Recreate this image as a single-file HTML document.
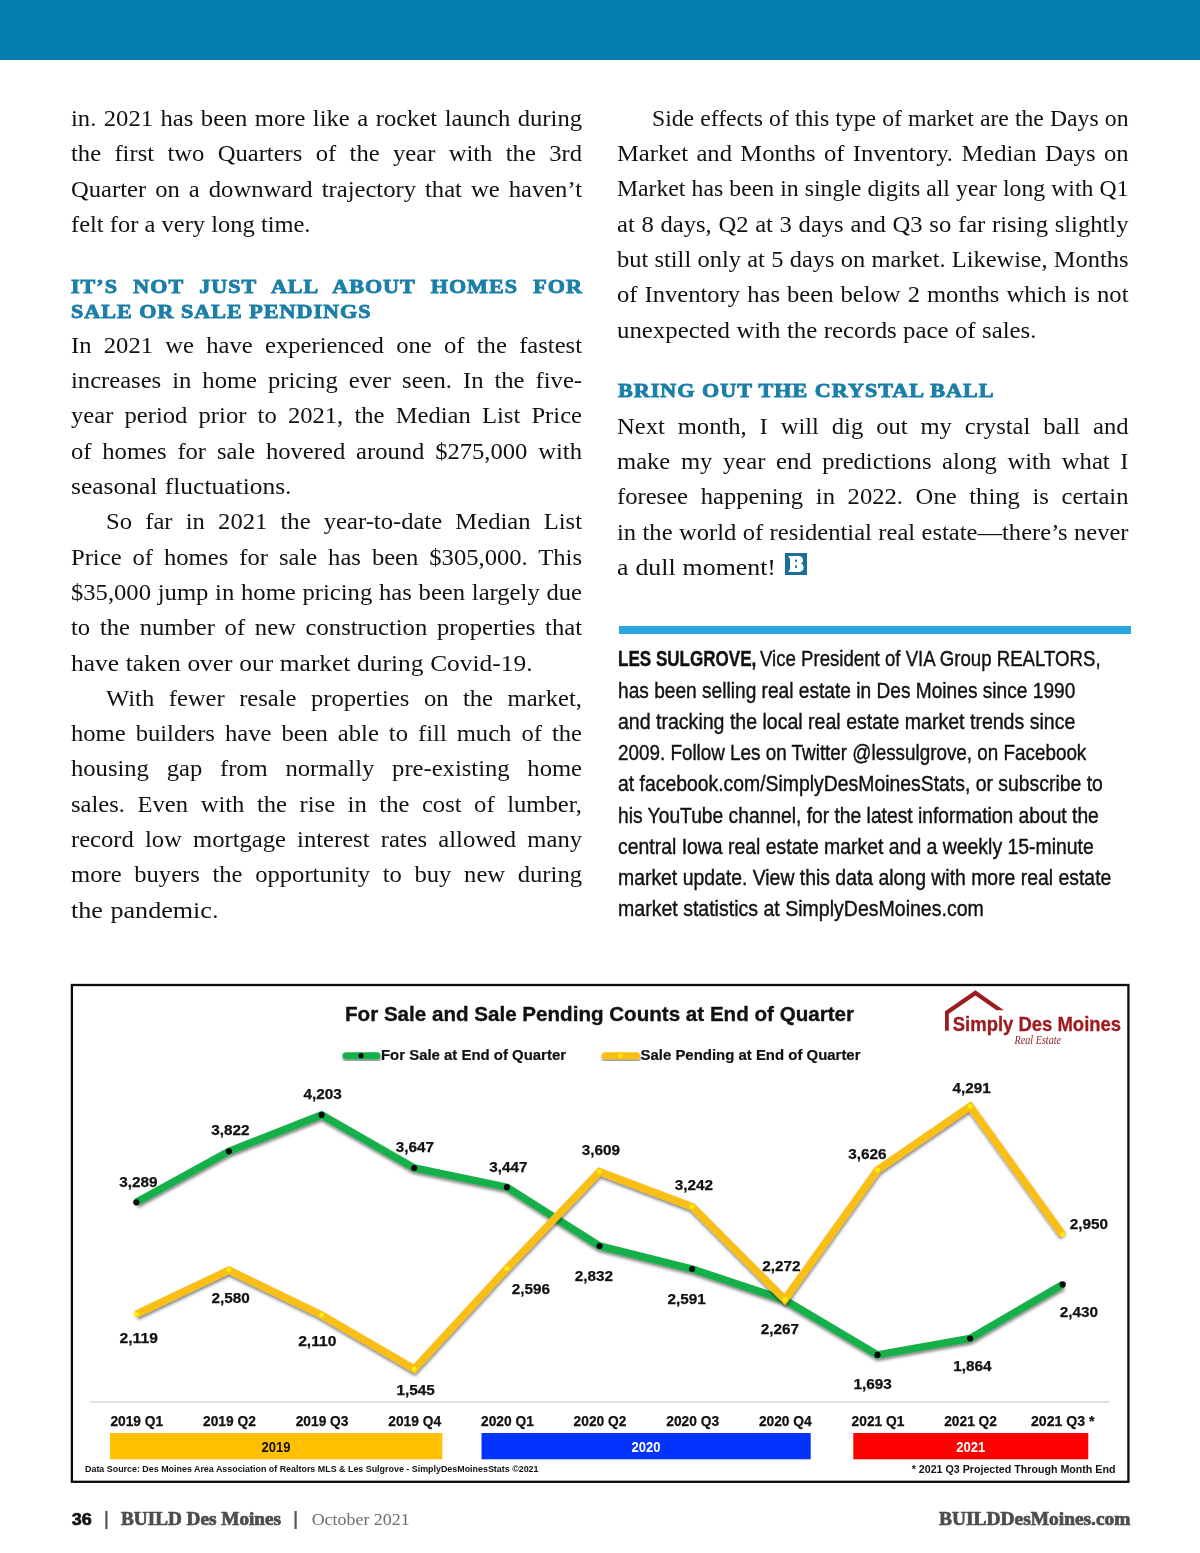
<!DOCTYPE html>
<html><head><meta charset="utf-8"><title>BUILD Des Moines</title>
<style>
html,body{margin:0;padding:0;background:#fff}
body{width:1200px;height:1553px;position:relative;overflow:hidden;font-family:"Liberation Serif",serif;color:#1a1a1a}
#pg{position:absolute;left:0;top:0;width:1200px;height:1553px;will-change:transform;background:#fff}
.topbar{position:absolute;left:0;top:0;width:1200px;height:60px;background:#0580ae}
.b{position:absolute;font:24.0px/36px "Liberation Serif",serif;white-space:nowrap;text-align:justify;text-align-last:justify;color:#111;transform-origin:0 0}
.h{position:absolute;font:bold 19.8px/26px "Liberation Serif",serif;white-space:nowrap;text-align:justify;text-align-last:justify;color:#1b7fa8;-webkit-text-stroke:0.9px #1b7fa8;letter-spacing:0.9px;transform:scaleX(1.117);transform-origin:0 50%}
.bio{position:absolute;font:22.0px/30px "Liberation Sans",sans-serif;white-space:nowrap;transform-origin:0 50%;color:#111;-webkit-text-stroke:0.4px #111}
.bio b{font-weight:bold}
.rule{position:absolute;left:619.2px;top:626.2px;width:511.8px;height:7.6px;background:#2ba6e0}
.bbox{position:absolute;left:785px;top:553px;width:21px;height:22px;background:#1b7fa8;color:#fff;font:bold 19px/22px "Liberation Serif",serif;text-align:center}
</style></head><body>
<div id="pg"><div class="topbar"></div>
<div class="b" style="left:71.00px;top:100.10px;width:498.54px;transform:scaleX(1.0250)">in. 2021 has been more like a rocket launch during</div>
<div class="b" style="left:71.00px;top:135.40px;width:498.54px;transform:scaleX(1.0250)">the first two Quarters of the year with the 3rd</div>
<div class="b" style="left:71.00px;top:170.80px;width:498.54px;transform:scaleX(1.0250)">Quarter on a downward trajectory that we haven’t</div>
<div class="b" style="left:71.00px;top:206.20px;width:234.98px;transform:scaleX(1.0192)">felt for a very long time.</div>
<div class="b" style="left:71.00px;top:326.80px;width:498.54px;transform:scaleX(1.0250)">In 2021 we have experienced one of the fastest</div>
<div class="b" style="left:71.00px;top:362.10px;width:498.54px;transform:scaleX(1.0250)">increases in home pricing ever seen. In the five-</div>
<div class="b" style="left:71.00px;top:397.40px;width:498.54px;transform:scaleX(1.0250)">year period prior to 2021, the Median List Price</div>
<div class="b" style="left:71.00px;top:432.70px;width:498.54px;transform:scaleX(1.0250)">of homes for sale hovered around $275,000 with</div>
<div class="b" style="left:71.00px;top:468.00px;width:207.67px;transform:scaleX(1.0618)">seasonal fluctuations.</div>
<div class="b" style="left:106.00px;top:503.30px;width:464.39px;transform:scaleX(1.0250)">So far in 2021 the year-to-date Median List</div>
<div class="b" style="left:71.00px;top:538.60px;width:498.54px;transform:scaleX(1.0250)">Price of homes for sale has been $305,000. This</div>
<div class="b" style="left:71.00px;top:573.90px;width:498.54px;transform:scaleX(1.0250)">$35,000 jump in home pricing has been largely due</div>
<div class="b" style="left:71.00px;top:609.20px;width:498.54px;transform:scaleX(1.0250)">to the number of new construction properties that</div>
<div class="b" style="left:71.00px;top:644.50px;width:435.96px;transform:scaleX(1.0586)">have taken over our market during Covid-19.</div>
<div class="b" style="left:106.00px;top:679.80px;width:464.39px;transform:scaleX(1.0250)">With fewer resale properties on the market,</div>
<div class="b" style="left:71.00px;top:715.10px;width:498.54px;transform:scaleX(1.0250)">home builders have been able to fill much of the</div>
<div class="b" style="left:71.00px;top:750.40px;width:498.54px;transform:scaleX(1.0250)">housing gap from normally pre-existing home</div>
<div class="b" style="left:71.00px;top:785.70px;width:498.54px;transform:scaleX(1.0250)">sales. Even with the rise in the cost of lumber,</div>
<div class="b" style="left:71.00px;top:821.00px;width:498.54px;transform:scaleX(1.0250)">record low mortgage interest rates allowed many</div>
<div class="b" style="left:71.00px;top:856.30px;width:498.54px;transform:scaleX(1.0250)">more buyers the opportunity to buy new during</div>
<div class="b" style="left:71.00px;top:891.60px;width:135.57px;transform:scaleX(1.0880)">the pandemic.</div>
<div class="b" style="left:652.30px;top:99.80px;width:482.78px;transform:scaleX(0.9870)">Side effects of this type of market are the Days on</div>
<div class="b" style="left:617.30px;top:135.10px;width:499.02px;transform:scaleX(1.0250)">Market and Months of Inventory. Median Days on</div>
<div class="b" style="left:617.30px;top:170.40px;width:517.93px;transform:scaleX(0.9876)">Market has been in single digits all year long with Q1</div>
<div class="b" style="left:617.30px;top:205.70px;width:499.02px;transform:scaleX(1.0250)">at 8 days, Q2 at 3 days and Q3 so far rising slightly</div>
<div class="b" style="left:617.30px;top:241.00px;width:502.59px;transform:scaleX(1.0177)">but still only at 5 days on market. Likewise, Months</div>
<div class="b" style="left:617.30px;top:276.30px;width:499.02px;transform:scaleX(1.0250)">of Inventory has been below 2 months which is not</div>
<div class="b" style="left:617.30px;top:311.60px;width:405.66px;transform:scaleX(1.0341)">unexpected with the records pace of sales.</div>
<div class="b" style="left:617.30px;top:407.70px;width:499.02px;transform:scaleX(1.0250)">Next month, I will dig out my crystal ball and</div>
<div class="b" style="left:617.30px;top:443.00px;width:499.02px;transform:scaleX(1.0250)">make my year end predictions along with what I</div>
<div class="b" style="left:617.30px;top:478.30px;width:499.02px;transform:scaleX(1.0250)">foresee happening in 2022. One thing is certain</div>
<div class="b" style="left:617.30px;top:513.60px;width:499.77px;transform:scaleX(1.0235)">in the world of residential real estate—there’s never</div>
<div class="b" style="left:617.30px;top:548.90px;width:147.56px;transform:scaleX(1.0775)">a dull moment!</div>
<div class="h" style="left:70.70px;top:272.62px;width:458.37px">IT’S NOT JUST ALL ABOUT HOMES FOR</div>
<div class="h" style="left:70.50px;top:297.92px;width:269.02px">SALE OR SALE PENDINGS</div>
<div class="h" style="left:618.00px;top:377.12px;width:333.48px">BRING OUT THE CRYSTAL BALL</div>
<svg style="position:absolute;left:785px;top:553px" width="22" height="22" viewBox="0 0 22 22"><rect width="22" height="22" fill="#1a7099"/><path fill="#fff" d="M3.8 3H13.2C16.6 3 18 4.9 18 6.9C18 8.6 17.2 9.8 15.9 10.4C17.6 11 18.6 12.5 18.6 14.5C18.6 17.4 16.4 19 13.2 19H3.8V16.7H5V5.3H3.8Z"/><rect x="10.2" y="6.6" width="1.8" height="2.5" rx=".5" fill="#1a7099"/><rect x="10.2" y="12.2" width="1.8" height="2.9" rx=".5" fill="#1a7099"/></svg>
<div class="rule"></div>
<div class="bio" style="left:618.3px;top:644.38px;transform:scaleX(0.7749)"><b>LES SULGROVE,</b></div>
<div class="bio" style="left:759.5px;top:644.38px;transform:scaleX(0.8466)">Vice President of VIA Group REALTORS,</div>
<div class="bio" style="left:618.3px;top:675.63px;transform:scaleX(0.8696)">has been selling real estate in Des Moines since 1990</div>
<div class="bio" style="left:618.3px;top:706.88px;transform:scaleX(0.8883)">and tracking the local real estate market trends since</div>
<div class="bio" style="left:618.3px;top:738.13px;transform:scaleX(0.8568)">2009. Follow Les on Twitter @lessulgrove, on Facebook</div>
<div class="bio" style="left:618.3px;top:769.38px;transform:scaleX(0.8811)">at facebook.com/SimplyDesMoinesStats, or subscribe to</div>
<div class="bio" style="left:618.3px;top:800.63px;transform:scaleX(0.8749)">his YouTube channel, for the latest information about the</div>
<div class="bio" style="left:618.3px;top:831.88px;transform:scaleX(0.8823)">central Iowa real estate market and a weekly 15-minute</div>
<div class="bio" style="left:618.3px;top:863.13px;transform:scaleX(0.8814)">market update. View this data along with more real estate</div>
<div class="bio" style="left:618.3px;top:894.38px;transform:scaleX(0.8879)">market statistics at SimplyDesMoines.com</div>
<svg width="1085" height="520" viewBox="0 0 1085 520" style="position:absolute;left:60px;top:975px;overflow:visible" font-family="Liberation Sans, sans-serif" font-weight="bold" fill="#111">
<defs><filter id="sh" x="-5%" y="-20%" width="110%" height="140%"><feDropShadow dx="0.4" dy="2.3" stdDeviation="1.4" flood-color="#000" flood-opacity="0.5"/></filter></defs>
<rect x="11.9" y="10.0" width="1056.5" height="496.8" fill="#fff" stroke="#0a0a0a" stroke-width="2.3"/>
<line x1="30" y1="427" x2="1049.5" y2="427" stroke="#d9d9d9" stroke-width="1.3"/>
<g filter="url(#sh)"><polyline points="76.3,227.3 168.9,176.3 261.6,139.9 354.2,193.0 446.9,212.2 539.5,271.0 632.2,294.0 724.8,325.0 817.5,379.9 910.1,363.5 1002.7,309.4" fill="none" stroke="#19b04b" stroke-width="7.5" stroke-linejoin="miter" stroke-miterlimit="6" stroke-linecap="butt"/></g>
<circle cx="76.3" cy="227.3" r="3.1" fill="#0a0a0a"/>
<circle cx="168.9" cy="176.3" r="3.1" fill="#0a0a0a"/>
<circle cx="261.6" cy="139.9" r="3.1" fill="#0a0a0a"/>
<circle cx="354.2" cy="193.0" r="3.1" fill="#0a0a0a"/>
<circle cx="446.9" cy="212.2" r="3.1" fill="#0a0a0a"/>
<circle cx="539.5" cy="271.0" r="3.1" fill="#0a0a0a"/>
<circle cx="632.2" cy="294.0" r="3.1" fill="#0a0a0a"/>
<circle cx="724.8" cy="325.0" r="3.1" fill="#0a0a0a"/>
<circle cx="817.5" cy="379.9" r="3.1" fill="#0a0a0a"/>
<circle cx="910.1" cy="363.5" r="3.1" fill="#0a0a0a"/>
<circle cx="1002.7" cy="309.4" r="3.1" fill="#0a0a0a"/>
<g filter="url(#sh)"><polyline points="76.3,339.2 168.9,295.1 261.6,340.0 354.2,394.1 446.9,293.5 539.5,196.7 632.2,231.8 724.8,324.5 817.5,195.0 910.1,131.5 1002.7,259.7" fill="none" stroke="#fabf14" stroke-width="7.5" stroke-linejoin="miter" stroke-miterlimit="6" stroke-linecap="butt"/></g>
<circle cx="76.3" cy="339.2" r="2.4" fill="#fff200"/>
<circle cx="168.9" cy="295.1" r="2.4" fill="#fff200"/>
<circle cx="261.6" cy="340.0" r="2.4" fill="#fff200"/>
<circle cx="354.2" cy="394.1" r="2.4" fill="#fff200"/>
<circle cx="446.9" cy="293.5" r="2.4" fill="#fff200"/>
<circle cx="539.5" cy="196.7" r="2.4" fill="#fff200"/>
<circle cx="632.2" cy="231.8" r="2.4" fill="#fff200"/>
<circle cx="724.8" cy="324.5" r="2.4" fill="#fff200"/>
<circle cx="817.5" cy="195.0" r="2.4" fill="#fff200"/>
<circle cx="910.1" cy="131.5" r="2.4" fill="#fff200"/>
<circle cx="1002.7" cy="259.7" r="2.4" fill="#fff200"/>
<text x="78.3" y="211.7" font-size="14.7" text-anchor="middle" stroke="#111" stroke-width="0.25" textLength="38.3" lengthAdjust="spacingAndGlyphs">3,289</text>
<text x="170.3" y="160.0" font-size="14.7" text-anchor="middle" stroke="#111" stroke-width="0.25" textLength="38.3" lengthAdjust="spacingAndGlyphs">3,822</text>
<text x="262.7" y="124.0" font-size="14.7" text-anchor="middle" stroke="#111" stroke-width="0.25" textLength="38.3" lengthAdjust="spacingAndGlyphs">4,203</text>
<text x="355.0" y="177.3" font-size="14.7" text-anchor="middle" stroke="#111" stroke-width="0.25" textLength="38.3" lengthAdjust="spacingAndGlyphs">3,647</text>
<text x="448.3" y="196.7" font-size="14.7" text-anchor="middle" stroke="#111" stroke-width="0.25" textLength="38.3" lengthAdjust="spacingAndGlyphs">3,447</text>
<text x="541.0" y="180.0" font-size="14.7" text-anchor="middle" stroke="#111" stroke-width="0.25" textLength="38.3" lengthAdjust="spacingAndGlyphs">3,609</text>
<text x="634.0" y="215.0" font-size="14.7" text-anchor="middle" stroke="#111" stroke-width="0.25" textLength="38.3" lengthAdjust="spacingAndGlyphs">3,242</text>
<text x="471.0" y="319.3" font-size="14.7" text-anchor="middle" stroke="#111" stroke-width="0.25" textLength="38.3" lengthAdjust="spacingAndGlyphs">2,596</text>
<text x="534.0" y="305.7" font-size="14.7" text-anchor="middle" stroke="#111" stroke-width="0.25" textLength="38.3" lengthAdjust="spacingAndGlyphs">2,832</text>
<text x="626.7" y="329.0" font-size="14.7" text-anchor="middle" stroke="#111" stroke-width="0.25" textLength="38.3" lengthAdjust="spacingAndGlyphs">2,591</text>
<text x="911.7" y="118.3" font-size="14.7" text-anchor="middle" stroke="#111" stroke-width="0.25" textLength="38.3" lengthAdjust="spacingAndGlyphs">4,291</text>
<text x="807.3" y="184.0" font-size="14.7" text-anchor="middle" stroke="#111" stroke-width="0.25" textLength="38.3" lengthAdjust="spacingAndGlyphs">3,626</text>
<text x="1029.0" y="254.0" font-size="14.7" text-anchor="middle" stroke="#111" stroke-width="0.25" textLength="38.3" lengthAdjust="spacingAndGlyphs">2,950</text>
<text x="721.3" y="295.8" font-size="14.7" text-anchor="middle" stroke="#111" stroke-width="0.25" textLength="38.3" lengthAdjust="spacingAndGlyphs">2,272</text>
<text x="720.0" y="359.0" font-size="14.7" text-anchor="middle" stroke="#111" stroke-width="0.25" textLength="38.3" lengthAdjust="spacingAndGlyphs">2,267</text>
<text x="1019.0" y="342.3" font-size="14.7" text-anchor="middle" stroke="#111" stroke-width="0.25" textLength="38.3" lengthAdjust="spacingAndGlyphs">2,430</text>
<text x="78.7" y="368.3" font-size="14.7" text-anchor="middle" stroke="#111" stroke-width="0.25" textLength="38.3" lengthAdjust="spacingAndGlyphs">2,119</text>
<text x="170.7" y="328.3" font-size="14.7" text-anchor="middle" stroke="#111" stroke-width="0.25" textLength="38.3" lengthAdjust="spacingAndGlyphs">2,580</text>
<text x="257.3" y="370.7" font-size="14.7" text-anchor="middle" stroke="#111" stroke-width="0.25" textLength="38.3" lengthAdjust="spacingAndGlyphs">2,110</text>
<text x="355.7" y="420.0" font-size="14.7" text-anchor="middle" stroke="#111" stroke-width="0.25" textLength="38.3" lengthAdjust="spacingAndGlyphs">1,545</text>
<text x="812.7" y="414.3" font-size="14.7" text-anchor="middle" stroke="#111" stroke-width="0.25" textLength="38.3" lengthAdjust="spacingAndGlyphs">1,693</text>
<text x="912.3" y="396.0" font-size="14.7" text-anchor="middle" stroke="#111" stroke-width="0.25" textLength="38.3" lengthAdjust="spacingAndGlyphs">1,864</text>
<text x="76.8" y="451.3" font-size="14" text-anchor="middle" stroke="#111" stroke-width="0.25" textLength="52.8" lengthAdjust="spacingAndGlyphs">2019 Q1</text>
<text x="169.4" y="451.3" font-size="14" text-anchor="middle" stroke="#111" stroke-width="0.25" textLength="52.8" lengthAdjust="spacingAndGlyphs">2019 Q2</text>
<text x="262.1" y="451.3" font-size="14" text-anchor="middle" stroke="#111" stroke-width="0.25" textLength="52.8" lengthAdjust="spacingAndGlyphs">2019 Q3</text>
<text x="354.7" y="451.3" font-size="14" text-anchor="middle" stroke="#111" stroke-width="0.25" textLength="52.8" lengthAdjust="spacingAndGlyphs">2019 Q4</text>
<text x="447.4" y="451.3" font-size="14" text-anchor="middle" stroke="#111" stroke-width="0.25" textLength="52.8" lengthAdjust="spacingAndGlyphs">2020 Q1</text>
<text x="540.0" y="451.3" font-size="14" text-anchor="middle" stroke="#111" stroke-width="0.25" textLength="52.8" lengthAdjust="spacingAndGlyphs">2020 Q2</text>
<text x="632.7" y="451.3" font-size="14" text-anchor="middle" stroke="#111" stroke-width="0.25" textLength="52.8" lengthAdjust="spacingAndGlyphs">2020 Q3</text>
<text x="725.3" y="451.3" font-size="14" text-anchor="middle" stroke="#111" stroke-width="0.25" textLength="52.8" lengthAdjust="spacingAndGlyphs">2020 Q4</text>
<text x="818.0" y="451.3" font-size="14" text-anchor="middle" stroke="#111" stroke-width="0.25" textLength="52.8" lengthAdjust="spacingAndGlyphs">2021 Q1</text>
<text x="910.6" y="451.3" font-size="14" text-anchor="middle" stroke="#111" stroke-width="0.25" textLength="52.8" lengthAdjust="spacingAndGlyphs">2021 Q2</text>
<text x="971.0" y="451.3" font-size="14" stroke="#111" stroke-width="0.25" textLength="63.5" lengthAdjust="spacingAndGlyphs">2021 Q3 *</text>
<rect x="50.0" y="458.0" width="332.3" height="26.3" fill="#ffc000"/>
<text x="216.1" y="476.7" font-size="14.5" text-anchor="middle" fill="#111" textLength="29" lengthAdjust="spacingAndGlyphs">2019</text>
<rect x="421.5" y="458.0" width="329.2" height="26.3" fill="#0433ff"/>
<text x="586.1" y="476.7" font-size="14.5" text-anchor="middle" fill="#fff" textLength="29" lengthAdjust="spacingAndGlyphs">2020</text>
<rect x="793.3" y="458.0" width="235.0" height="26.3" fill="#ff0000"/>
<text x="910.8" y="476.7" font-size="14.5" text-anchor="middle" fill="#fff" textLength="29" lengthAdjust="spacingAndGlyphs">2021</text>
<text x="285" y="45.6" font-size="20.8" stroke="#111" stroke-width="0.35" textLength="509" lengthAdjust="spacingAndGlyphs">For Sale and Sale Pending Counts at End of Quarter</text>
<g filter="url(#sh)"><rect x="282.5" y="77.2" width="38" height="7" rx="3.5" fill="#19b04b"/></g><circle cx="301" cy="80.7" r="2.6" fill="#0a0a0a"/>
<text x="321" y="84.9" font-size="14.8" stroke="#111" stroke-width="0.2" textLength="185" lengthAdjust="spacingAndGlyphs">For Sale at End of Quarter</text>
<g filter="url(#sh)"><rect x="541.5" y="77.2" width="38.5" height="7" rx="3.5" fill="#fabf14"/></g><circle cx="560.5" cy="80.7" r="2.2" fill="#fff200"/>
<text x="580.5" y="84.9" font-size="14.8" stroke="#111" stroke-width="0.2" textLength="220" lengthAdjust="spacingAndGlyphs">Sale Pending at End of Quarter</text>
<text x="25" y="496.70000000000005" font-size="8.4" textLength="453.5" lengthAdjust="spacingAndGlyphs">Data Source: Des Moines Area Association of Realtors MLS &amp; Les Sulgrove - SimplyDesMoinesStats ©2021</text>
<text x="851.7" y="498.3" font-size="11.3" textLength="203.8" lengthAdjust="spacingAndGlyphs">* 2021 Q3 Projected Through Month End</text>
<path fill="#9e1b20" d="M885.00 55.80 L885.00 36.20 L915.40 15.30 L943.80 35.30 L936.60 35.30 L915.40 20.40 L888.80 38.70 L888.80 55.80 Z"/>
<text x="892.8" y="55.7" font-size="19.3" fill="#9e1b20" stroke="#9e1b20" stroke-width="0.3" textLength="168.3" lengthAdjust="spacingAndGlyphs">Simply Des Moines</text>
<text x="954.6" y="69.0" font-size="12.5" fill="#8e1f2b" font-family="Liberation Serif, serif" font-style="italic" font-weight="normal" textLength="46.5" lengthAdjust="spacingAndGlyphs">Real Estate</text>
</svg>
<svg width="1200" height="60" viewBox="0 1493 1200 60" style="position:absolute;left:0;top:1493px">
<text x="71.7" y="1525" font-family="Liberation Sans, sans-serif" font-weight="bold" font-size="16.4" fill="#111" stroke="#111" stroke-width="0.6" textLength="20" lengthAdjust="spacingAndGlyphs">36</text>
<rect x="105.3" y="1511" width="2.2" height="18" fill="#555"/>
<text x="121" y="1525" font-family="Liberation Serif, serif" font-weight="bold" font-size="17.8" fill="#4d4d4f" stroke="#4d4d4f" stroke-width="0.7" textLength="160" lengthAdjust="spacingAndGlyphs">BUILD Des Moines</text>
<rect x="294.5" y="1511" width="2.2" height="18" fill="#555"/>
<text x="311.7" y="1525" font-family="Liberation Serif, serif" font-size="16.6" fill="#6d6e70" textLength="98" lengthAdjust="spacingAndGlyphs">October 2021</text>
<text x="939" y="1524.5" font-family="Liberation Serif, serif" font-weight="bold" font-size="17.8" fill="#4d4d4f" stroke="#4d4d4f" stroke-width="0.7" textLength="191.5" lengthAdjust="spacingAndGlyphs">BUILDDesMoines.com</text>
</svg>
</div></body></html>
